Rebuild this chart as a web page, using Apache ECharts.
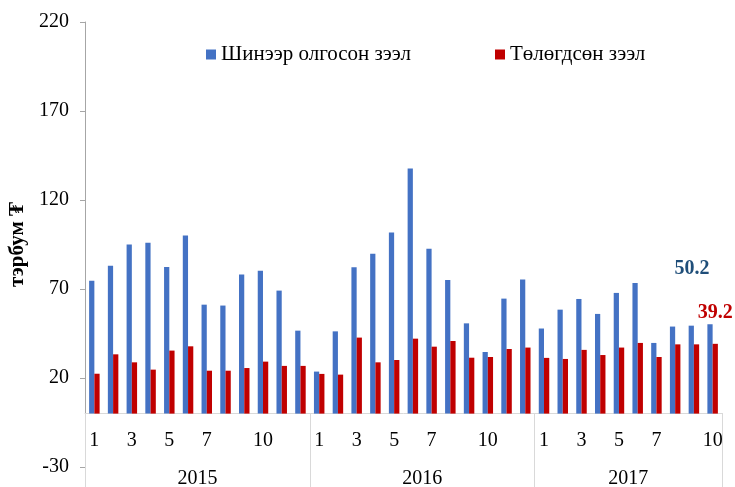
<!DOCTYPE html>
<html>
<head>
<meta charset="utf-8">
<script src="https://cdn.jsdelivr.net/npm/echarts@6/dist/echarts.min.js"></script>
<style>
  html, body { margin: 0; padding: 0; background: #fff; }
  #main { width: 735px; height: 487px; }
</style>
</head>
<body>
<div id="main"></div>
<script>
var years = ['2015', '2016', '2017'];
var monthsPerYear = [12, 12, 10];
var shownMonths = [1, 3, 5, 7, 10];

// Шинээр олгосон зээл, 2015-01 .. 2017-10
var newLoans = [
  74.7, 83.0, 95.0, 96.0, 82.4, 100.1, 61.2, 60.7, 78.1, 80.2, 69.1, 46.6,
  23.6, 46.2, 82.2, 89.8, 101.7, 137.7, 92.6, 75.1, 50.7, 34.6, 64.6, 75.3,
  47.8, 58.4, 64.4, 56.0, 67.8, 73.4, 39.7, 48.9, 49.4, 50.2
];
// Төлөгдсөн зээл
var repaidLoans = [
  22.4, 33.3, 28.8, 24.7, 35.4, 37.8, 24.1, 24.1, 25.6, 29.2, 26.8, 26.8,
  22.3, 21.9, 42.7, 28.8, 30.1, 42.1, 37.6, 40.8, 31.4, 31.8, 36.3, 37.1,
  31.3, 30.7, 35.8, 32.9, 37.1, 39.7, 31.8, 38.9, 38.9, 39.2
];

var yMin = -30, yMax = 220;

var categories = [];
var yearBounds = [0];
var yearCenters = [];
years.forEach(function (y, i) {
  for (var m = 1; m <= monthsPerYear[i]; m++) categories.push(y + '-' + m);
  var start = yearBounds[yearBounds.length - 1];
  yearBounds.push(start + monthsPerYear[i]);
  yearCenters.push(start + monthsPerYear[i] / 2);
});

var font = "'Liberation Serif', 'Times New Roman', serif";
var last = categories.length - 1;

var gridTop = 22, gridBottom = 20, chartH = 487;
var plotH = chartH - gridTop - gridBottom;
// distance from grid bottom up to the zero line
var zeroOffset = plotH * (0 - yMin) / (yMax - yMin);

var blueData = newLoans.map(function (v, i) {
  if (i !== last) return v;
  return {
    value: v,
    label: {
      show: true, position: 'top', offset: [-18, -40],
      color: '#1F4E79', fontWeight: 'bold', fontSize: 20, fontFamily: font
    }
  };
});
var redData = repaidLoans.map(function (v, i) {
  if (i !== last) return v;
  return {
    value: v,
    label: {
      show: true, position: 'top', offset: [0, -16],
      color: '#C00000', fontWeight: 'bold', fontSize: 20, fontFamily: font
    }
  };
});

var chart = echarts.init(document.getElementById('main'));

var option = {
  animation: false,
  textStyle: { fontFamily: font },
  legend: {
    data: ['Шинээр олгосон зээл', 'Төлөгдсөн зээл'],
    top: 39,
    left: 201,
    itemWidth: 10,
    itemHeight: 10,
    itemGap: 84,
    icon: 'rect',
    textStyle: { fontSize: 21, color: '#000', fontFamily: font }
  },
  grid: {
    left: 85, right: 13, top: gridTop, bottom: gridBottom,
    outerBoundsMode: 'none'
  },
  xAxis: [
    {
      type: 'category',
      data: categories,
      position: 'bottom',
      offset: -zeroOffset,
      axisLine: { onZero: false, lineStyle: { color: '#D9D9D9' } },
      axisTick: { show: false },
      axisLabel: {
        interval: 0,
        margin: 17,
        fontSize: 20,
        color: '#000',
        fontFamily: font,
        formatter: function (v) {
          var m = parseInt(v.split('-')[1], 10);
          return shownMonths.indexOf(m) >= 0 ? String(m) : '';
        }
      }
    },
    {
      type: 'value',
      min: 0,
      max: categories.length,
      position: 'bottom',
      offset: 26,
      axisLine: { show: false, onZero: false },
      splitLine: { show: false },
      axisTick: {
        show: true,
        inside: true,
        length: 80,
        customValues: yearBounds,
        lineStyle: { color: '#D9D9D9' }
      },
      axisLabel: {
        inside: true,
        margin: 4,
        fontSize: 20,
        color: '#000',
        fontFamily: font,
        customValues: yearCenters,
        formatter: function (v) {
          var idx = yearCenters.indexOf(v);
          return idx >= 0 ? years[idx] : '';
        }
      }
    }
  ],
  yAxis: {
    type: 'value',
    min: yMin,
    max: yMax,
    interval: 50,
    name: 'тэрбум ₮',
    nameLocation: 'middle',
    nameGap: 48,
    nameTextStyle: { fontSize: 21, fontWeight: 'bold', color: '#000', fontFamily: font },
    splitLine: { show: false },
    axisLine: { show: true, lineStyle: { color: '#A6A6A6' } },
    axisTick: { show: true, length: 5, lineStyle: { color: '#A6A6A6' } },
    axisLabel: { margin: 16, fontSize: 20, color: '#000', fontFamily: font }
  },
  series: [
    {
      name: 'Шинээр олгосон зээл',
      type: 'bar',
      barWidth: '28%',
      barGap: '0%',
      itemStyle: { color: '#4472C4' },
      data: blueData
    },
    {
      name: 'Төлөгдсөн зээл',
      type: 'bar',
      barWidth: '28%',
      barGap: '0%',
      itemStyle: { color: '#C00000' },
      data: redData
    }
  ]
};

chart.setOption(option);
</script>
</body>
</html>
